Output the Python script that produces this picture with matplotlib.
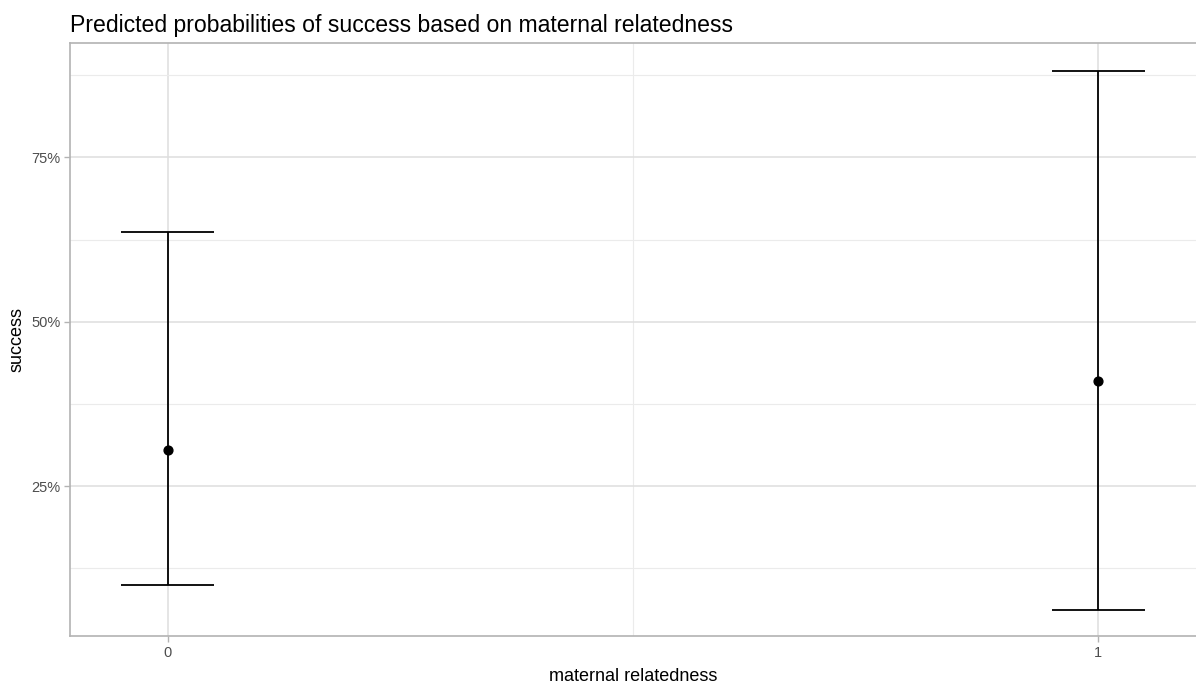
import matplotlib.pyplot as plt
from matplotlib.ticker import FixedLocator, PercentFormatter

plt.rcParams["font.family"] = ["Liberation Sans", "DejaVu Sans"]

groups = [0, 1]
predicted = [0.305, 0.410]
conf_low = [0.099, 0.062]
conf_high = [0.637, 0.881]

fig = plt.figure(figsize=(11.96, 6.86), dpi=100)
ax = fig.add_axes([70 / 1196, 1 - 636 / 686, 1 - 70 / 1196, (636 - 43) / 686])

# caps drawn as short horizontal segments, width 0.1 in data units
ax.vlines(groups, conf_low, conf_high, color="black", linewidth=1.3, zorder=3)
for g, lo, hi in zip(groups, conf_low, conf_high):
    ax.hlines([lo, hi], g - 0.05, g + 0.05, color="black", linewidth=1.3, zorder=3)
ax.scatter(groups, predicted, s=40, color="black", zorder=4)

ax.set_xlim(-0.105, 1.105)
ax.set_ylim(0.022, 0.924)
ax.set_xticks(groups)
ax.set_xticklabels([str(g) for g in groups])
ax.set_yticks([0.25, 0.5, 0.75])
ax.yaxis.set_major_formatter(PercentFormatter(1.0, decimals=0))
ax.xaxis.set_minor_locator(FixedLocator([0.5]))
ax.yaxis.set_minor_locator(FixedLocator([0.125, 0.375, 0.625, 0.875]))

ax.grid(True, which="major", color="#dedede", linewidth=1.1)
ax.grid(True, which="minor", color="#ebebeb", linewidth=0.8)
ax.set_axisbelow(True)

for side in ax.spines.values():
    side.set_color("#b3b3b3")
    side.set_linewidth(1.2)
ax.spines["right"].set_visible(False)

ax.tick_params(which="major", length=4, width=1, color="#b3b3b3",
               labelcolor="#4d4d4d", labelsize=10.5, pad=3)
ax.tick_params(which="minor", length=0)

ax.set_xlabel("maternal relatedness", fontsize=13, color="black", labelpad=6)
ax.set_ylabel("success", fontsize=13, color="black", labelpad=4)
ax.set_title("Predicted probabilities of success based on maternal relatedness",
             fontsize=16.6, loc="left", pad=8)

fig.savefig("out.png", dpi=100)
